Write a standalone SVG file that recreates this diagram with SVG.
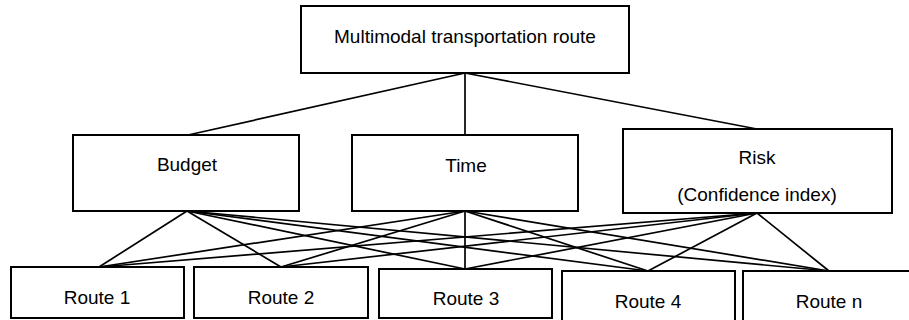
<svg xmlns="http://www.w3.org/2000/svg" width="909" height="320" viewBox="0 0 909 320">
  <style>
    .box { fill: #ffffff; stroke: #000000; stroke-width: 2; }
    .lbl { font-family: "Liberation Sans", Arial, sans-serif; font-size: 19px; fill: #000000; text-anchor: middle; }
    .edge { stroke: #000000; stroke-width: 1.7; fill: none; }
  </style>
  <rect width="909" height="320" fill="#ffffff"/>

  <!-- connectors -->
  <g id="connectors">
    <!-- goal to criteria -->
    <line class="edge" x1="465" y1="73" x2="188" y2="135"/>
    <line class="edge" x1="465" y1="73" x2="465" y2="135"/>
    <line class="edge" x1="465" y1="73" x2="757" y2="129"/>
    <!-- Budget to routes -->
    <line class="edge" x1="187" y1="211" x2="99" y2="267"/>
    <line class="edge" x1="187" y1="211" x2="281" y2="267"/>
    <line class="edge" x1="187" y1="211" x2="465" y2="269"/>
    <line class="edge" x1="187" y1="211" x2="648" y2="271"/>
    <line class="edge" x1="187" y1="211" x2="829" y2="271"/>
    <!-- Time to routes -->
    <line class="edge" x1="465" y1="211" x2="99" y2="267"/>
    <line class="edge" x1="465" y1="211" x2="281" y2="267"/>
    <line class="edge" x1="465" y1="211" x2="465" y2="269"/>
    <line class="edge" x1="465" y1="211" x2="648" y2="271"/>
    <line class="edge" x1="465" y1="211" x2="829" y2="271"/>
    <!-- Risk to routes -->
    <line class="edge" x1="757" y1="213" x2="99" y2="267"/>
    <line class="edge" x1="757" y1="213" x2="281" y2="267"/>
    <line class="edge" x1="757" y1="213" x2="465" y2="269"/>
    <line class="edge" x1="757" y1="213" x2="648" y2="271"/>
    <line class="edge" x1="757" y1="213" x2="829" y2="271"/>
  </g>

  <g id="goal">
    <rect class="box" x="301" y="6" width="328" height="67"/>
    <text class="lbl" x="465" y="43">Multimodal transportation route</text>
  </g>

  <g id="budget">
    <rect class="box" x="73" y="135" width="226" height="76"/>
    <text class="lbl" x="187" y="171">Budget</text>
  </g>
  <g id="time">
    <rect class="box" x="352" y="135" width="226" height="76"/>
    <text class="lbl" x="466" y="172">Time</text>
  </g>
  <g id="risk">
    <rect class="box" x="623" y="129" width="269" height="84"/>
    <text class="lbl" x="757" y="164">Risk</text>
    <text class="lbl" x="757" y="201">(Confidence index)</text>
  </g>

  <g id="route1">
    <rect class="box" x="11" y="267" width="173" height="51"/>
    <text class="lbl" x="97" y="304">Route 1</text>
  </g>
  <g id="route2">
    <rect class="box" x="194" y="267" width="174" height="51"/>
    <text class="lbl" x="281" y="304">Route 2</text>
  </g>
  <g id="route3">
    <rect class="box" x="379" y="269" width="173" height="49"/>
    <text class="lbl" x="466" y="305">Route 3</text>
  </g>
  <g id="route4">
    <rect class="box" x="562" y="271" width="173" height="52"/>
    <text class="lbl" x="648" y="308">Route 4</text>
  </g>
  <g id="routen">
    <rect class="box" x="743" y="271" width="170" height="52"/>
    <text class="lbl" x="829" y="308">Route n</text>
  </g>
</svg>
